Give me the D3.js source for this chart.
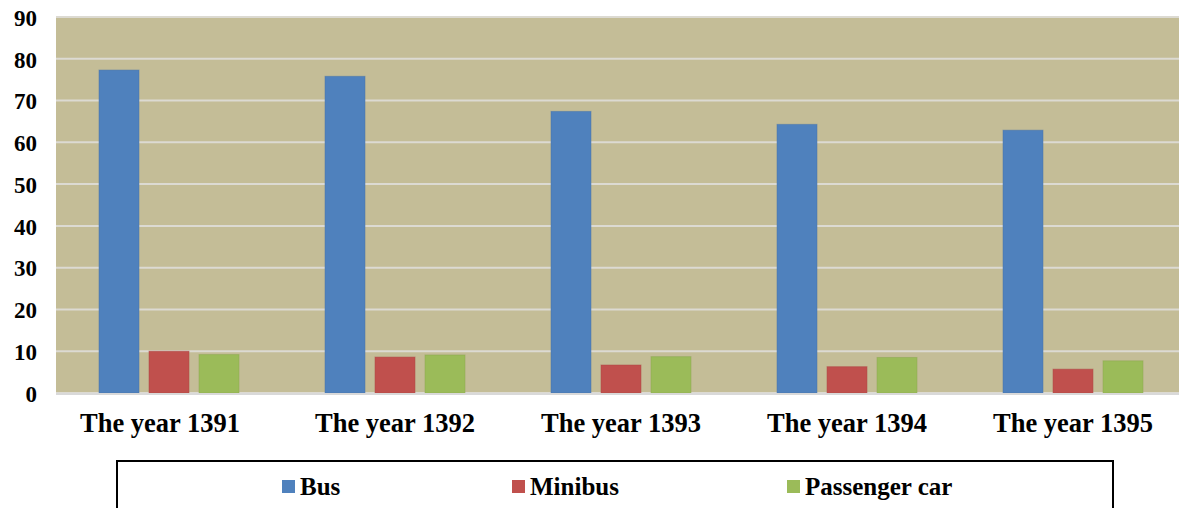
<!DOCTYPE html>
<html>
<head>
<meta charset="utf-8">
<script src="https://cdn.jsdelivr.net/npm/d3@7"></script>
<style>
  body { margin: 0; background: #fff; }
  svg text { font-family: "Liberation Serif", "Times New Roman", serif; font-weight: bold; fill: #000; }
</style>
</head>
<body>
<div id="chart"></div>
<script>

// chart data
var years = ["The year 1391", "The year 1392", "The year 1393", "The year 1394", "The year 1395"];
var seriesNames = ["Bus", "Minibus", "Passenger car"];
var bus = [77.3, 75.8, 67.4, 64.3, 62.9];
var minibus = [10.0, 8.6, 6.7, 6.3, 5.7];
var passengerCar = [9.2, 9.1, 8.7, 8.5, 7.7];
var yTicks = [0, 10, 20, 30, 40, 50, 60, 70, 80, 90];

var colors = ["#4f81bd", "#c0504d", "#9bbb59"];

var svgWidth = 1179;
var svgHeight = 508;
var serif = '"Liberation Serif", "Times New Roman", serif';

// plot area inside the svg
var plot = { left: 56, top: 17, right: 1186, bottom: 393 };

var svg = d3.select("#chart")
  .append("svg")
  .attr("width", svgWidth)
  .attr("height", svgHeight);

// build rows for the grouped bars
var rows = years.map(function(y, i) {
  return { year: y, values: [bus[i], minibus[i], passengerCar[i]] };
});

var xScale = d3.scaleBand()
  .domain(years)
  .range([plot.left, plot.right])
  .padding(0);

var xInner = d3.scaleBand()
  .domain(seriesNames)
  .range([43, 183])
  .paddingInner(0.2)
  .paddingOuter(0);

var yScale = d3.scaleLinear()
  .domain([0, 90])
  .range([plot.bottom, plot.top]);

// background
svg.append("rect")
  .attr("x", plot.left)
  .attr("y", plot.top)
  .attr("width", plot.right - plot.left)
  .attr("height", plot.bottom - plot.top)
  .attr("fill", "#c4bd97");

// gridlines
svg.append("g")
  .selectAll("line")
  .data(yTicks)
  .enter()
  .append("line")
    .attr("x1", plot.left)
    .attr("x2", plot.right)
    .attr("y1", d => yScale(d))
    .attr("y2", d => yScale(d))
    .attr("stroke", "#dcdad2")
    .attr("stroke-width", 2);

// bars
var groups = svg.append("g")
  .selectAll("g")
  .data(rows)
  .enter()
  .append("g")
    .attr("transform", d => `translate(${xScale(d.year)}, 0)`);

groups.selectAll("rect")
  .data(d => d.values.map((v, j) => ({ name: seriesNames[j], value: v, idx: j })))
  .enter()
  .append("rect")
    .attr("x", d => xInner(d.name))
    .attr("y", d => yScale(d.value))
    .attr("width", xInner.bandwidth())
    .attr("height", d => yScale(0) - yScale(d.value))
    .attr("fill", d => colors[d.idx])
    .attr("stroke", d => d3.color(colors[d.idx]).darker(0.3))
    .attr("stroke-opacity", 0.5)
    .attr("stroke-width", 1);

// baseline
svg.append("line")
  .attr("x1", plot.left)
  .attr("x2", plot.right)
  .attr("y1", plot.bottom + 1)
  .attr("y2", plot.bottom + 1)
  .attr("stroke", "#d9d9d9")
  .attr("stroke-width", 2);

// y axis (labels only)
var yAxis = d3.axisLeft(yScale)
  .tickValues(yTicks)
  .tickSize(0)
  .tickPadding(0);

var yAxisG = svg.append("g")
  .attr("transform", "translate(37, 0)")
  .call(yAxis);
yAxisG.select(".domain").remove();
yAxisG.selectAll("text")
  .style("font-size", "23px")
  .style("font-family", serif)
  .style("font-weight", "bold")
  .attr("dy", "0.36em");

// x axis (labels only)
var xAxis = d3.axisBottom(xScale).tickSize(0).tickPadding(0);
var xAxisG = svg.append("g")
  .attr("transform", `translate(0, ${plot.bottom})`)
  .call(xAxis);
xAxisG.select(".domain").remove();
xAxisG.selectAll("text")
  .style("font-size", "26.5px")
  .style("font-family", serif)
  .style("font-weight", "bold")
  .attr("y", 39)
  .attr("dy", 0)
  .attr("dx", (d, i) => i === 0 ? -9 : 0);

// legend box
svg.append("rect")
  .attr("x", 117)
  .attr("y", 461)
  .attr("width", 996)
  .attr("height", 80)
  .attr("fill", "#fff")
  .attr("stroke", "#000")
  .attr("stroke-width", 2);

var legendX = [282, 512, 787];
var legend = svg.append("g")
  .selectAll("g")
  .data(seriesNames)
  .enter()
  .append("g")
    .attr("transform", (d, i) => `translate(${legendX[i]}, 480)`);

legend.append("rect")
  .attr("width", 13)
  .attr("height", 13)
  .attr("fill", (d, i) => colors[i]);

legend.append("text")
  .attr("x", 18)
  .attr("y", 14.5)
  .style("font-size", "25px")
  .style("font-family", serif)
  .text(d => d);

</script>
</body>
</html>
